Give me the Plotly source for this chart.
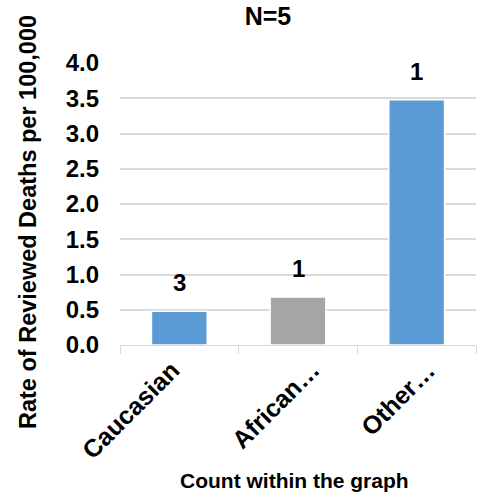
import plotly.graph_objects as go

categories = ["Caucasian", "African…", "Other…"]
rates = [0.48, 0.68, 3.48]
counts = ["3", "1", "1"]
colors = ["#5B9BD5", "#A5A5A5", "#5B9BD5"]
y_ticks = [0.0, 0.5, 1.0, 1.5, 2.0, 2.5, 3.0, 3.5, 4.0]

font_family = "Liberation Sans, Arial, sans-serif"

W, H = 477, 495
L, R, T, B = 120, 1, 63, 150
pw, ph = W - L - R, H - T - B

# horizontal nudge of each rotated category label (style, in px)
label_xshift = [8, 29, 27]

fig = go.Figure(go.Bar(
    x=categories, y=rates,
    marker=dict(color=colors, line=dict(color="white", width=1.5)),
    width=0.47,
))

for c, r, t in zip(categories, rates, counts):
    fig.add_annotation(x=c, y=r, text=f"<b>{t}</b>", showarrow=False,
                       yanchor="bottom", yshift=13,
                       font=dict(family=font_family, size=24, color="black"))

# rotated category labels
for c, dx in zip(categories, label_xshift):
    fig.add_annotation(x=c, xref="x", y=0, yref="paper", text=f"<b>{c}</b>",
                       textangle=-45, showarrow=False, xanchor="right", yanchor="top",
                       xshift=dx, yshift=-8,
                       font=dict(family=font_family, size=25, color="black"))

# axis titles placed as annotations (pixel centres converted to paper coords)
fig.add_annotation(xref="paper", yref="paper",
                   x=(28 - L) / pw, y=(H - B - 222) / ph,
                   text="<b>Rate of Reviewed Deaths per 100,000</b>", textangle=-90,
                   showarrow=False, xanchor="center", yanchor="middle",
                   font=dict(family=font_family, size=23.5, color="black"))
fig.add_annotation(xref="paper", yref="paper",
                   x=(294 - L) / pw, y=(H - B - 480) / ph,
                   text="<b>Count within the graph</b>",
                   showarrow=False, xanchor="center", yanchor="middle",
                   font=dict(family=font_family, size=21, color="black"))

fig.update_layout(
    width=W, height=H,
    margin=dict(l=L, r=R, t=T, b=B, autoexpand=False),
    paper_bgcolor="white", plot_bgcolor="white",
    font=dict(family=font_family, color="black"),
    title=dict(text="<b>N=5</b>", x=268 / W, xanchor="center", y=1 - 16 / H, yanchor="middle",
               font=dict(size=25, color="black")),
    showlegend=False,
    xaxis=dict(
        automargin=False,
        range=[-0.5, len(categories) - 0.5], autorange=False,
        showticklabels=False,
        showline=True, linecolor="#D9D9D9", linewidth=1,
        ticks="outside", tickson="boundaries", ticklen=8, tickcolor="#D9D9D9",
    ),
    yaxis=dict(
        automargin=False,
        range=[0, 4.0], autorange=False, tickvals=y_ticks,
        ticktext=[f"<b>{v:.1f}</b>" for v in y_ticks],
        tickfont=dict(size=24), ticklabelstandoff=20,
        showgrid=True, gridcolor="#D9D9D9", gridwidth=1.5,
        zeroline=False, showline=False,
    ),
)

fig.write_html("out.html", post_script="document.body.style.margin='0';",
               config={"displayModeBar": False})
